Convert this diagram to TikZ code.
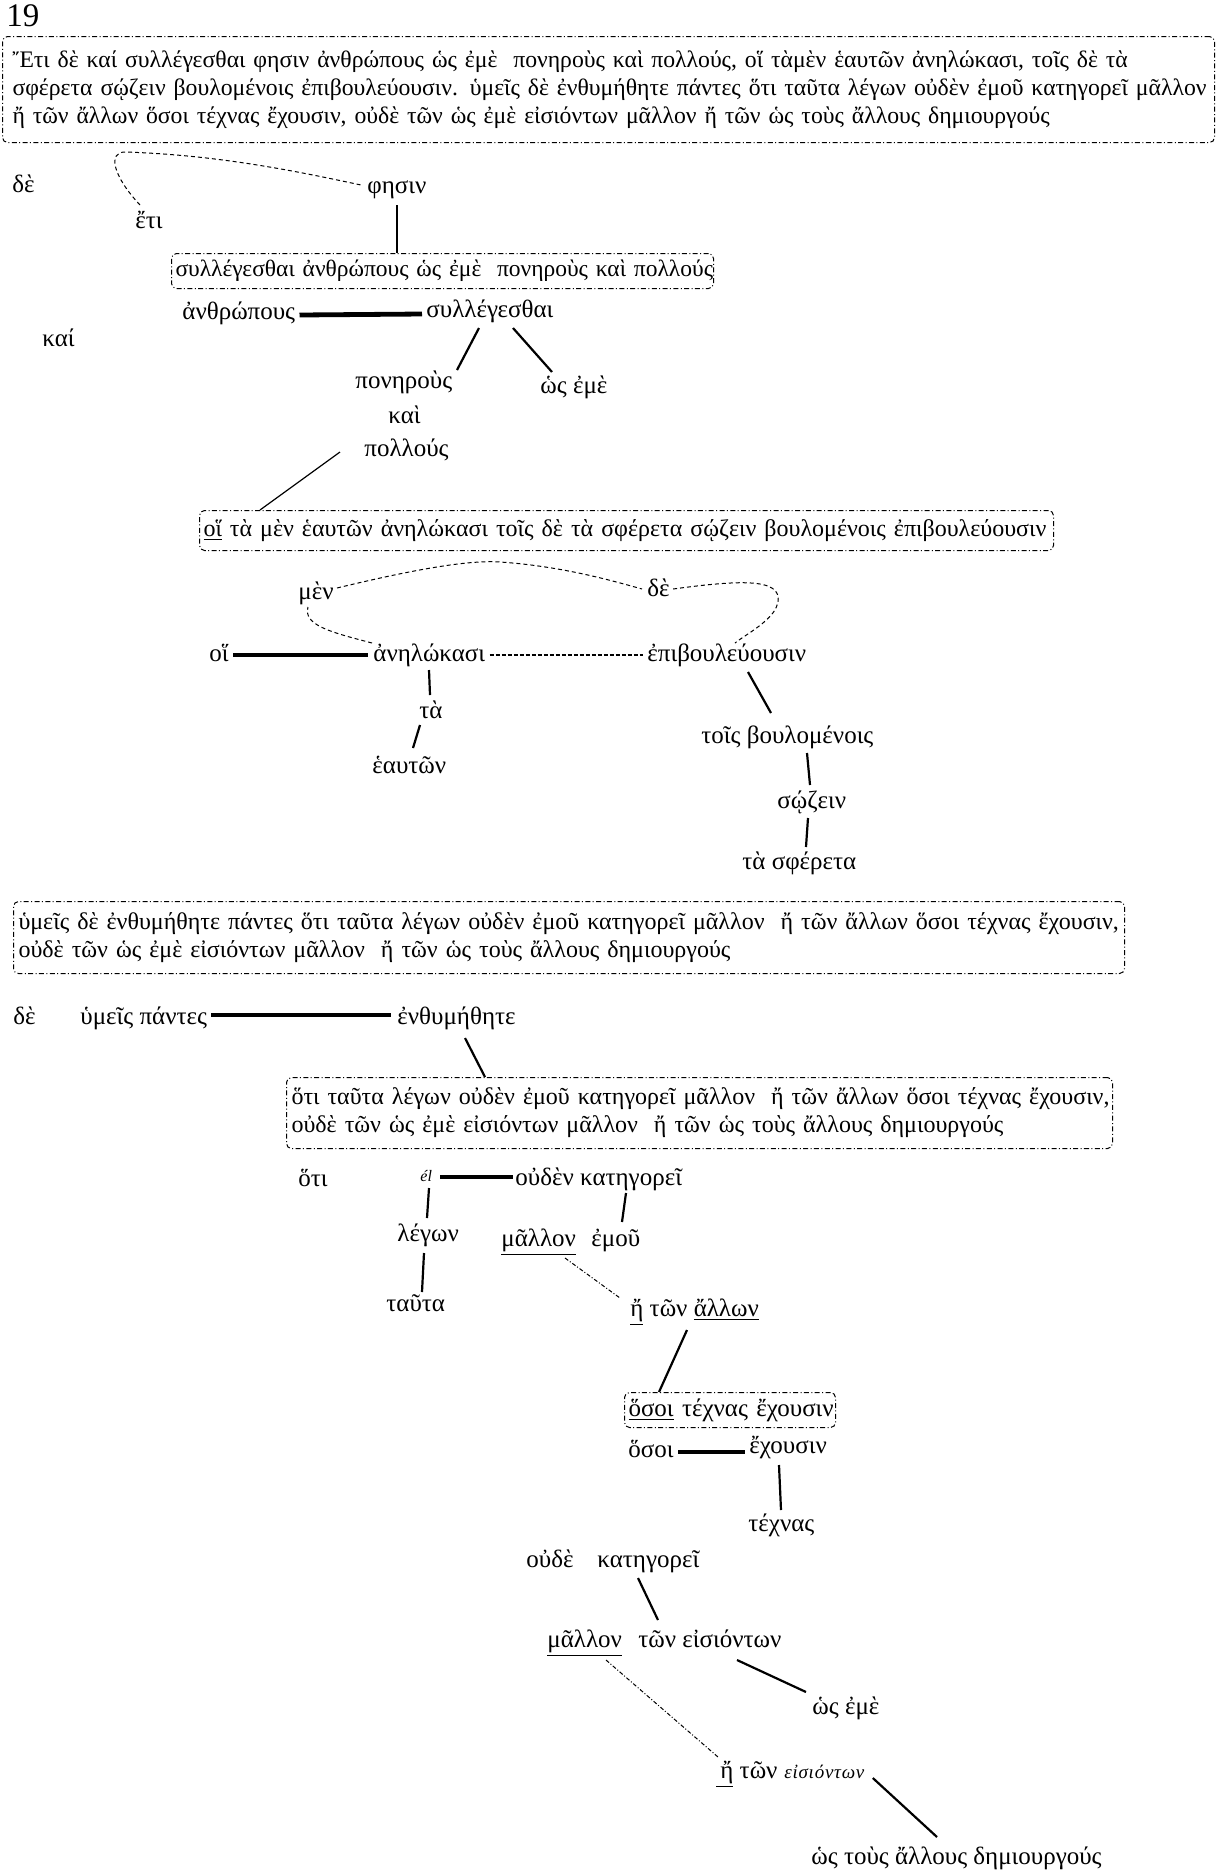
\documentclass[tikz,border=0pt]{standalone}
\usepackage{fontspec}
\setmainfont{Liberation Serif}
\usetikzlibrary{calc}
\begin{document}
\begin{tikzpicture}[x=0.5pt,y=-0.5pt,
  w/.style={anchor=west,inner sep=0pt,text height=8.5pt,text depth=2.5pt,font=\fontsize{12.5}{14}\selectfont},
  sm/.style={anchor=west,inner sep=0pt,font=\fontsize{8}{9}\selectfont\itshape},
  gbox/.style={anchor=north west,draw,line width=0.5pt,rounded corners=2.5pt,
     dash pattern=on 2.5pt off 1.2pt on 0.5pt off 1.2pt,align=left,inner ysep=0pt,
     font=\fontsize{12}{14}\selectfont},
  ln/.style={line width=1.1pt},
  thinln/.style={line width=0.6pt},
  thickln/.style={line width=2.4pt},
  dcurve/.style={line width=0.5pt,dash pattern=on 2pt off 1.5pt},
  ddash/.style={line width=0.6pt,dash pattern=on 2pt off 1pt},
  ddot/.style={line width=0.5pt,dash pattern=on 2pt off 1pt on 0.5pt off 1pt}]
\useasboundingbox (0,0) rectangle (1221,1876);

\node[anchor=west,inner sep=0pt,font=\fontsize{16.5}{18}\selectfont] (num) at (6,16) {19};

% ---- box 1
\node[gbox,minimum width=606pt,minimum height=53pt,text width=596pt,inner xsep=5pt,
      font=\fontsize{11.85}{14}\selectfont] (b1) at (2,36)
 {\mbox{Ἔτι δὲ καί συλλέγεσθαι φησιν ἀνθρώπους ὡς ἐμὲ \ πονηροὺς καὶ πολλούς, οἵ τὰμὲν ἑαυτῶν ἀνηλώκασι, τοῖς δὲ τὰ}\\
  \mbox{σφέρετα σῴζειν βουλομένοις ἐπιβουλεύουσιν. ὑμεῖς δὲ ἐνθυμήθητε πάντες ὅτι ταῦτα λέγων οὐδὲν ἐμοῦ κατηγορεῖ μᾶλλον}\\
  \mbox{ἤ τῶν ἄλλων ὅσοι τέχνας ἔχουσιν, οὐδὲ τῶν ὡς ἐμὲ εἰσιόντων μᾶλλον ἤ τῶν ὡς τοὺς ἄλλους δημιουργούς}};

% ---- section 1
\node[w] (de1) at (12,186) {δὲ};
\node[w] (eti) at (135,222) {ἔτι};
\node[w] (phesin) at (367,187) {φησιν};
\node[gbox,minimum width=271pt,minimum height=17.5pt,text width=267pt,inner xsep=2pt,
      font=\fontsize{11.75}{14}\selectfont] (b2) at (171,253)
 {\mbox{συλλέγεσθαι ἀνθρώπους ὡς ἐμὲ \ πονηροὺς καὶ πολλούς}};
\node[w] (anthr) at (182,313) {ἀνθρώπους};
\node[w] (syll) at (426,311) {συλλέγεσθαι};
\node[w] (kai1) at (42,340) {καί};
\node[w] (poner) at (355,382) {πονηροὺς};
\node[w] (hoseme1) at (540,387) {ὡς ἐμὲ};
\node[w] (kai2) at (388,417) {καὶ};
\node[w] (pollous) at (364,450) {πολλούς};

\draw[dcurve] ([shift={(5,-17)}]eti.west) .. controls (112,175) and (108,152) .. (125,152)
   .. controls (220,155) and (300,172) .. ([shift={(-6,-2)}]phesin.west);
\draw[thinln] ([shift={(30,18)}]phesin.west) -- ([shift={(226,0)}]b2.north west);
\draw[thickln] ([shift={(4,2)}]anthr.east) -- ([shift={(-4,3)}]syll.west);
\draw[ln] ([shift={(53,17)}]syll.west) -- ([shift={(102,-12)}]poner.west);
\draw[ln] ([shift={(87,17)}]syll.west) -- ([shift={(12,-15)}]hoseme1.west);

% ---- box 3
\node[gbox,minimum width=427pt,minimum height=20pt,text width=423pt,inner xsep=2pt] (b3) at (199,510)
 {\mbox{\underline{οἵ} τὰ μὲν ἑαυτῶν ἀνηλώκασι τοῖς δὲ τὰ σφέρετα σῴζειν βουλομένοις ἐπιβουλεύουσιν}};
\draw[thinln] ([shift={(-24,2)}]pollous.west) -- ([shift={(61,0)}]b3.north west);
\node[w] (men) at (298,593) {μὲν};
\node[w] (de2) at (647,590) {δὲ};
\node[w] (hoi) at (209,655) {οἵ};
\node[w] (anel) at (373,655) {ἀνηλώκασι};
\node[w] (epib) at (647,655) {ἐπιβουλεύουσιν};
\node[w] (ta1) at (419,712) {τὰ};
\node[w] (heauton) at (372,767) {ἑαυτῶν};
\node[w] (tois) at (701,737) {τοῖς βουλομένοις};
\node[w] (sozein) at (777,802) {σῴζειν};
\node[w] (taspher) at (742,863) {τὰ σφέρετα};

\draw[dcurve] ([shift={(-1,-12)}]anel.west) .. controls (330,632) and (303,625) .. ([shift={(10,14)}]men.west);
\draw[dcurve] ([shift={(3,-5)}]men.east) .. controls (420,568) and (470,560) .. (500,562)
   .. controls (560,566) and (610,580) .. ([shift={(-5,-1)}]de2.west);
\draw[dcurve] ([shift={(3,-1)}]de2.east) .. controls (740,580) and (792,576) .. (775,610)
   .. controls (765,625) and (745,635) .. ([shift={(88,-12)}]epib.west);
\draw[thickln] ([shift={(4,0)}]hoi.east) -- ([shift={(-5,0)}]anel.west);
\draw[ddash] ([shift={(4,0)}]anel.east) -- ([shift={(-4,0)}]epib.west);
\draw[ln] ([shift={(56,15)}]anel.west) -- ([shift={(11,-17)}]ta1.west);
\draw[ln] ([shift={(1,13)}]ta1.west) -- ([shift={(41,-19)}]heauton.west);
\draw[ln] ([shift={(101,17)}]epib.west) -- ([shift={(70,-24)}]tois.west);
\draw[ln] ([shift={(106,16)}]tois.west) -- ([shift={(33,-17)}]sozein.west);
\draw[ln] ([shift={(31,16)}]sozein.west) -- ([shift={(64,-16)}]taspher.west);

% ---- box 4
\node[gbox,minimum width=555.5pt,minimum height=36pt,text width=550.5pt,inner xsep=2.5pt] (b4) at (13,901)
 {\mbox{ὑμεῖς δὲ ἐνθυμήθητε πάντες ὅτι ταῦτα λέγων οὐδὲν ἐμοῦ κατηγορεῖ μᾶλλον \ ἤ τῶν ἄλλων ὅσοι τέχνας ἔχουσιν,}\\
  \mbox{οὐδὲ τῶν ὡς ἐμὲ εἰσιόντων μᾶλλον \ ἤ τῶν ὡς τοὺς ἄλλους δημιουργούς}};
\node[w] (de3) at (13,1018) {δὲ};
\node[w] (hymeis) at (80,1018) {ὑμεῖς πάντες};
\node[w] (enthym) at (397,1018) {ἐνθυμήθητε};
\draw[thickln] ([shift={(4,-3)}]hymeis.east) -- ([shift={(-6,-3)}]enthym.west);

\node[gbox,minimum width=413pt,minimum height=35.5pt,text width=408pt,inner xsep=2.5pt] (b5) at (286,1077)
 {\mbox{ὅτι ταῦτα λέγων οὐδὲν ἐμοῦ κατηγορεῖ μᾶλλον \ ἤ τῶν ἄλλων ὅσοι τέχνας ἔχουσιν,}\\
  \mbox{οὐδὲ τῶν ὡς ἐμὲ εἰσιόντων μᾶλλον \ ἤ τῶν ὡς τοὺς ἄλλους δημιουργούς}};
\draw[ln] ([shift={(68,20)}]enthym.west) -- ([shift={(199,0)}]b5.north west);

\node[w] (hoti) at (298,1180) {ὅτι};
\node[sm] (el) at (420,1176) {él};
\node[w] (oudenkat) at (515,1179) {οὐδὲν κατηγορεῖ};
\node[w] (legon) at (397,1235) {λέγων};
\node[w] (tauta) at (386,1305) {ταῦτα};
\node[w] (mallon1) at (501,1240) {\underline{μᾶλλον}};
\node[w] (emou) at (591,1240) {ἐμοῦ};
\node[w] (etonallon) at (630,1310) {\underline{ἤ} τῶν \underline{ἄλλων}};
\node[gbox,minimum width=105.5pt,minimum height=17.5pt,text width=101.5pt,inner xsep=2pt,
      font=\fontsize{12.5}{14}\selectfont] (b6) at (624,1392)
 {\mbox{\underline{ὅσοι} τέχνας ἔχουσιν}};
\node[w] (hosoi) at (628,1451) {ὅσοι};
\node[w] (echousin) at (749,1447) {ἔχουσιν};
\node[w] (technas) at (748,1525) {τέχνας};

\draw[thickln] ([shift={(8,1)}]el.east) -- ([shift={(-2,-2)}]oudenkat.west);
\draw[ln] ([shift={(9,12)}]el.west) -- ([shift={(30,-17)}]legon.west);
\draw[ln] ([shift={(27,18)}]legon.west) -- ([shift={(36,-13)}]tauta.west);
\draw[ln] ([shift={(111,14)}]oudenkat.west) -- ([shift={(31,-18)}]emou.west);
\draw[ddot] ([shift={(64,18)}]mallon1.west) -- ([shift={(-10,-12)}]etonallon.west);
\draw[ln] ([shift={(57,20)}]etonallon.west) -- ([shift={(35,0)}]b6.north west);
\draw[thickln] ([shift={(4,1)}]hosoi.east) -- ([shift={(-4,5)}]echousin.west);
\draw[ln] ([shift={(30,18)}]echousin.west) -- ([shift={(33,-15)}]technas.west);

% ---- last part
\node[w] (oude) at (526,1561) {οὐδὲ};
\node[w] (kat2) at (597,1561) {κατηγορεῖ};
\node[w] (mallon2) at (547,1641) {\underline{μᾶλλον}};
\node[w] (toneis) at (638,1641) {τῶν εἰσιόντων};
\node[w] (hoseme2) at (812,1708) {ὡς ἐμὲ};
\node[w] (eton2) at (716,1772) {\underline{\kern2pt ἤ} τῶν};
\node[sm,font=\fontsize{9.5}{10}\selectfont\itshape\addfontfeatures{LetterSpace=4}] (eision)
      at ([xshift=3pt]eton2.east) {εἰσιόντων};
\node[w] (hostous) at (811,1858) {ὡς τοὺς ἄλλους δημιουργούς};

\draw[ln] ([shift={(41,17)}]kat2.west) -- ([shift={(20,-21)}]toneis.west);
\draw[ln] ([shift={(99,19)}]toneis.west) -- ([shift={(-6,-16)}]hoseme2.west);
\draw[ddot] ([shift={(59,19)}]mallon2.west) -- ([shift={(2,-15)}]eton2.west);
\draw[ln] ([shift={(8,6)}]eision.east) -- ([shift={(126,-21)}]hostous.west);
\end{tikzpicture}
\end{document}
